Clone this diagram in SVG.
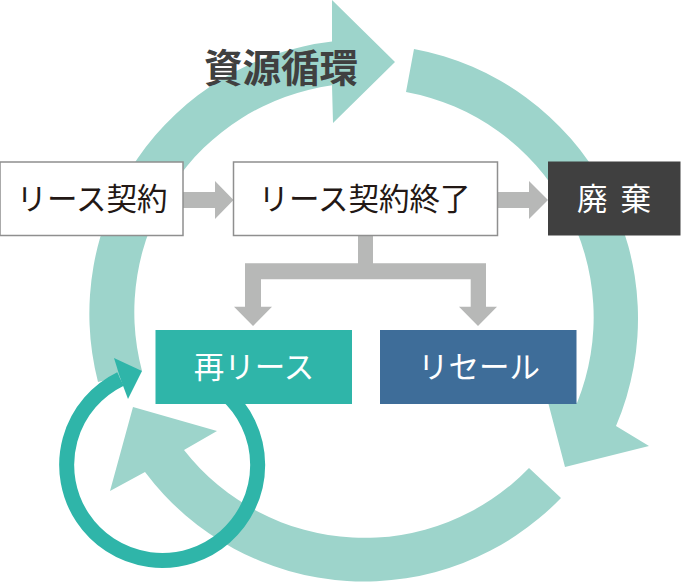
<svg xmlns="http://www.w3.org/2000/svg" width="681" height="584" viewBox="0 0 681 584">
<style>
.band{fill:#9dd4cb}
.flow{fill:#b7b8b7}
.t{font-family:"Noto Sans CJK JP","Noto Sans",sans-serif;font-size:30.5px}
.w{fill:#fff}
.k{fill:#231815}
.lb{fill:#fff;stroke:#8f8f8f;stroke-width:1.5}
</style>
<rect width="681" height="584" fill="#fff"/>
<g id="cycle">
<path class="band" d="M332 41.5A274 274 0 0 0 98 382L142 371A229 229 0 0 1 332 85.3L333 123L395 62L332 0Z"/>
<path class="band" d="M414 49A274 274 0 0 1 616 426L649 446L565 467L543 383L577 403A229 229 0 0 0 406 92Z"/>
<path class="band" d="M561 498A274 274 0 0 1 145 472L110 491L133 407L217 431L184 450A229 229 0 0 0 529 468Z"/>
</g>
<g id="connectors">
<path class="flow" d="M183 192H215V181L233.500 200L215 219V208H183Z"/>
<path class="flow" d="M497 192H529V181L548 200L529 219V208H497Z"/>
<path class="flow" d="M358 235H373V263.300H486V306.700H497L478 326L459 306.700H470.700V279.300H261V306.700H272L253 326L234 306.700H245V263.300H358Z"/>
<path d="M225 393A95.500 95.500 0 1 1 120.500 379" fill="none" stroke="#2fb5a9" stroke-width="15"/>
<path d="M142 371L114 358L120.500 379L128 399Z" fill="#2fb5a9"/>
</g>
<text id="title" x="204" y="82" font-family="Noto Sans CJK JP,sans-serif" font-size="38.500" font-weight="700" fill="#404040">資源循環</text>
<g id="node-lease">
<rect class="lb" x="0" y="162" width="183" height="73.500"/>
<text class="t k" x="92" y="209.500" text-anchor="middle">リース契約</text>
</g>
<g id="node-end">
<rect class="lb" x="233.500" y="162" width="264" height="73.500"/>
<text class="t k" x="364.500" y="209.500" text-anchor="middle">リース契約終了</text>
</g>
<g id="node-disposal">
<rect x="548" y="161.500" width="132.500" height="74" fill="#404040"/>
<text class="t w" x="614" y="209.500" text-anchor="middle" word-spacing="6">廃 棄</text>
</g>
<g id="node-release">
<rect x="155.500" y="330" width="196.500" height="74" fill="#2fb5a9"/>
<text class="t w" x="254" y="377.500" text-anchor="middle">再リース</text>
</g>
<g id="node-resale">
<rect x="380" y="330" width="196.500" height="74" fill="#3e6d99"/>
<text class="t w" x="479" y="377.500" text-anchor="middle">リセール</text>
</g>
</svg>
